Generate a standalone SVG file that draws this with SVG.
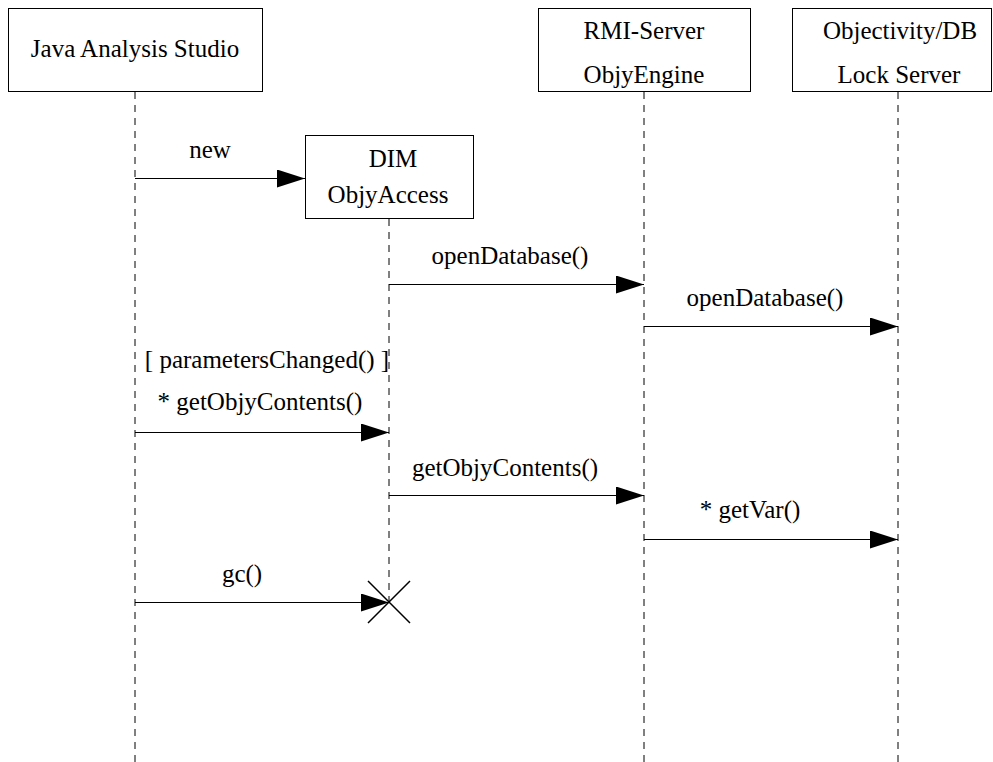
<svg xmlns="http://www.w3.org/2000/svg" width="993" height="762" viewBox="0 0 993 762">
<style>
.box{fill:#fff;stroke:#000;stroke-width:1}
.life{stroke:#000;stroke-width:1;stroke-dasharray:7,6;fill:none}
.msg{stroke:#000;stroke-width:1;fill:none;marker-end:url(#ah)}
.t{font-family:"Liberation Serif","Times New Roman",serif}
</style>
<defs>
<marker id="ah" markerUnits="userSpaceOnUse" markerWidth="28" markerHeight="18" refX="28" refY="9" orient="auto" viewBox="0 0 28 18">
<path d="M0,0 L28,9 L0,18 Z" fill="#000"/>
</marker>
</defs>
<rect width="993" height="762" fill="#fff"/>
<g id="lifelines">
<line class="life" x1="135" y1="92" x2="135" y2="762"/>
<line class="life" x1="389" y1="219" x2="389" y2="602"/>
<line class="life" x1="644" y1="92" x2="644" y2="762"/>
<line class="life" x1="898" y1="92" x2="898" y2="762"/>
</g>
<g class="t" font-size="25" text-anchor="middle" fill="#000">
<g id="node-jas">
<rect class="box" x="8.5" y="8.5" width="254" height="83"/>
<text x="135" y="57">Java Analysis Studio</text>
</g>
<g id="node-rmi">
<rect class="box" x="538.5" y="8.5" width="212" height="83"/>
<text x="644" y="39">RMI-Server</text>
<text x="644" y="83">ObjyEngine</text>
</g>
<g id="node-lock">
<rect class="box" x="792.5" y="8.5" width="199" height="83"/>
<text x="900" y="39">Objectivity/DB</text>
<text x="899" y="83">Lock Server</text>
</g>
<g id="node-dim">
<rect class="box" x="305.5" y="135.5" width="168" height="83"/>
<text x="393" y="167">DIM</text>
<text x="388" y="203">ObjyAccess</text>
</g>
<g id="connectors">
<line class="msg" x1="135" y1="178.5" x2="305" y2="178.5"/>
<text x="210" y="158">new</text>
<line class="msg" x1="389" y1="284.5" x2="644" y2="284.5"/>
<text x="510" y="264">openDatabase()</text>
<line class="msg" x1="644" y1="326.5" x2="898" y2="326.5"/>
<text x="765" y="306">openDatabase()</text>
<text x="267" y="368">[ parametersChanged() ]</text>
<text x="260" y="410">* getObjyContents()</text>
<line class="msg" x1="135" y1="432.5" x2="389" y2="432.5"/>
<line class="msg" x1="389" y1="495.5" x2="644" y2="495.5"/>
<text x="505" y="476">getObjyContents()</text>
<line class="msg" x1="644" y1="539.5" x2="898" y2="539.5"/>
<text x="750" y="518">* getVar()</text>
<line class="msg" x1="135" y1="602.5" x2="389" y2="602.5"/>
<text x="242" y="582">gc()</text>
<path d="M368,581 L410,623 M410,581 L368,623" stroke="#000" stroke-width="1.5" fill="none"/>
</g>
</g>
</svg>
